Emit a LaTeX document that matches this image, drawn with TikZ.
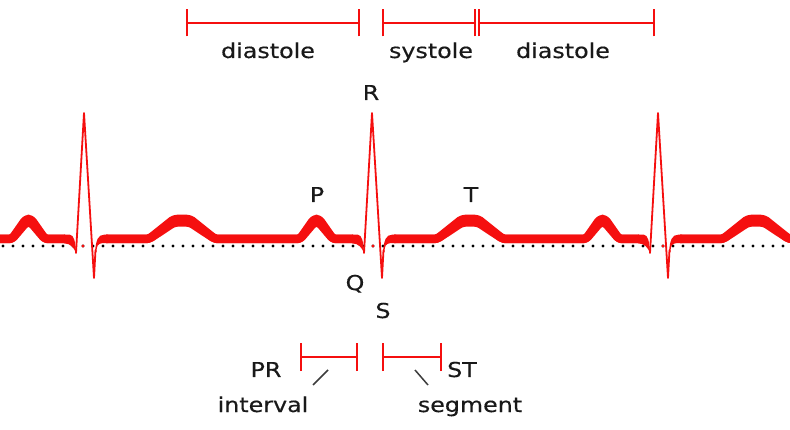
\documentclass[tikz,border=0pt]{standalone}
\usepackage{fontspec}
\newfontfamily\lblfont[FakeStretch=1.16,FakeBold=0.4]{DejaVu Sans}
\definecolor{ecg}{RGB}{245,15,15}
\definecolor{ink}{RGB}{25,25,25}
\begin{document}
\begin{tikzpicture}[x=1pt,y=-1pt,
  lbl/.style={font=\lblfont\fontsize{20.5}{24}\selectfont, text=ink, inner sep=0pt, anchor=base},
  band/.style={draw=ecg, line width=8.5pt, line join=round, line cap=butt, rounded corners=3pt},
  spike/.style={draw=ecg, line width=1.8pt, line join=round, line cap=round},
  bracket/.style={draw=ecg, line width=2pt},
  leader/.style={draw=ink!85, line width=1.5pt}]
\useasboundingbox (0,0) rectangle (790,430);
\fill[white] (0,0) rectangle (790,430);
\begin{scope}
\clip (0,0) rectangle (790,430);
% dotted baseline
\foreach \k in {0,...,78} {
  \fill[black] (3+10*\k,246) circle (1.7pt);
}
\foreach \xx in {83,373,663} {
  \fill[ecg] (\xx,246) circle (1.7pt);
}
% bands between beats
\foreach \a/\b in {-203/84, 84/372, 372/658, 658/945} {
  \foreach \pk in {219,222.5} {
    \draw[band] (\a+22,239) -- (\a+65,239) -- (\a+90,\pk) -- (\a+106,\pk) -- (\a+131,239)
       -- (\b-72,239) -- (\b-58,\pk) -- (\b-53,\pk) -- (\b-39,239) -- (\b-19,239);
  }
  % tapered end before Q
  \fill[ecg] (\b-20,234.75) -- (\b-14,234.75) .. controls (\b-10,235) and (\b-8.5,242) .. (\b-8,253)
     .. controls (\b-10,248) and (\b-13,243.5) .. (\b-20,243.25) -- cycle;
  % rounded start after S
  \fill[ecg] (\a+11,252) .. controls (\a+12,240) and (\a+14,234.75) .. (\a+20,234.75) -- (\a+24,234.75)
     -- (\a+24,243.25) -- (\a+18,243.25) .. controls (\a+14,243.5) and (\a+12.5,246) .. (\a+12.5,252) -- cycle;
}
% QRS complexes
\foreach \b in {84,372,658} {
  \draw[spike] (\b-8,253) -- (\b,113) -- (\b+10,278) -- (\b+11.5,250);
}
\end{scope}
% top brackets
\coordinate (d1a) at (187,23); \coordinate (d1b) at (359,23);
\coordinate (sya) at (383,23); \coordinate (syb) at (475,23);
\coordinate (d2a) at (479,23); \coordinate (d2b) at (654,23);
\draw[bracket] (d1a) -- (d1b);
\draw[bracket] (sya) -- (syb);
\draw[bracket] (d2a) -- (d2b);
\foreach \c in {d1a,d1b,sya,syb,d2a,d2b} {
  \draw[bracket] ([yshift=-13.5pt]\c) -- ([yshift=13.5pt]\c);
}
% bottom brackets
\coordinate (pra) at (301,357); \coordinate (prb) at (357,357);
\coordinate (sta) at (383,357); \coordinate (stb) at (441,357);
\draw[bracket] (pra) -- (prb);
\draw[bracket] (sta) -- (stb);
\foreach \c in {pra,prb,sta,stb} {
  \draw[bracket] ([yshift=-14pt]\c) -- ([yshift=14pt]\c);
}
% labels
\node[lbl] (tD1) at (268,58) {diastole};
\node[lbl] (tSy) at (431,58) {systole};
\node[lbl] (tD2) at (563,58) {diastole};
\node[lbl] (tR) at (371,100) {R};
\node[lbl] (tP) at (317,202) {P};
\node[lbl] (tT) at (471,202) {T};
\node[lbl] (tQ) at (355,290) {Q};
\node[lbl] (tS) at (383,318) {S};
\node[lbl] (tPR) at (266,377) {PR};
\node[lbl] (tST) at (462,377) {ST};
\node[lbl] (tint) at (263,412) {interval};
\node[lbl] (tseg) at (470,412) {segment};
% leader lines
\coordinate (l1a) at (313,385); \coordinate (l1b) at (328,370);
\coordinate (l2a) at (415,370); \coordinate (l2b) at (428,385);
\draw[leader] (l1a) -- (l1b);
\draw[leader] (l2a) -- (l2b);
\end{tikzpicture}
\end{document}
